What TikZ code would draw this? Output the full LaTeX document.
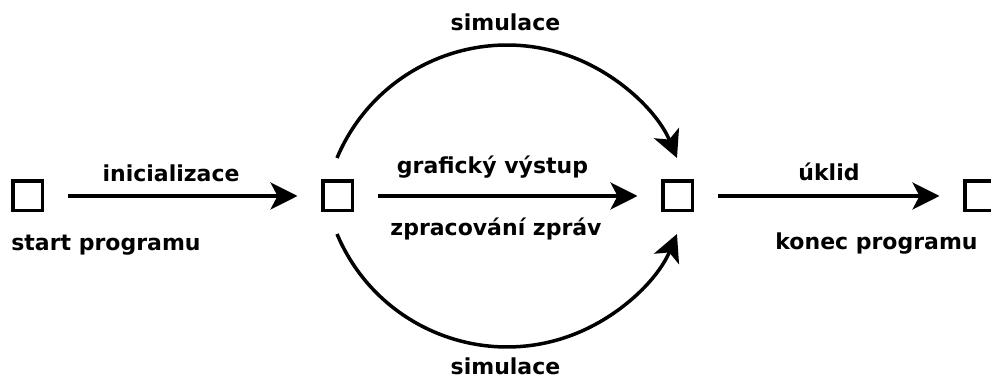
\documentclass[tikz,border=0pt]{standalone}
\usepackage{fontspec}
\setmainfont{DejaVu Sans}
\usetikzlibrary{arrows.meta}
\begin{document}
\begin{tikzpicture}[x=1pt,y=1pt,
  sq/.style={draw, line width=3.5pt, minimum size=29.5pt, inner sep=0pt},
  lbl/.style={inner sep=0pt, anchor=base, font=\fontsize{22}{26}\selectfont\bfseries},
  flow/.style={line width=3.5pt, -{Stealth[length=27pt,width=27pt,inset=7pt]}},
  straight/.style={flow, shorten <=24pt, shorten >=23.5pt}]
\useasboundingbox (0,0) rectangle (991,379);

% program states
\node[sq] (s1) at (27.5,183) {};
\node[sq] (s2) at (337.5,183) {};
\node[sq] (s3) at (677.5,183) {};
\node[sq] (s4) at (979.5,183) {};

% transitions
\draw[straight] (s1) -- (s2);
\draw[straight] (s2) -- (s3);
\draw[straight] (s3) -- (s4);
\draw[flow] ([shift={(-0.5pt,38pt)}]s2.center) arc[start angle=157.2, end angle=22.8, radius=184.4pt];
\draw[flow] ([shift={(-0.5pt,-38pt)}]s2.center) arc[start angle=202.8, end angle=337.2, radius=184.4pt];

% labels
\node[lbl] (l1) at (171,197) {inicializace};
\node[lbl] (l2) at (106,128) {start programu};
\node[lbl] (l3) at (492.5,205) {grafický výstup};
\node[lbl] (l4) at (496,143) {zpracování zpráv};
\node[lbl] (l5) at (505.5,348) {simulace};
\node[lbl] (l6) at (505.5,4.5) {simulace};
\node[lbl] (l7) at (829,198) {úklid};
\node[lbl] (l8) at (876.5,129) {konec programu};
\end{tikzpicture}
\end{document}
